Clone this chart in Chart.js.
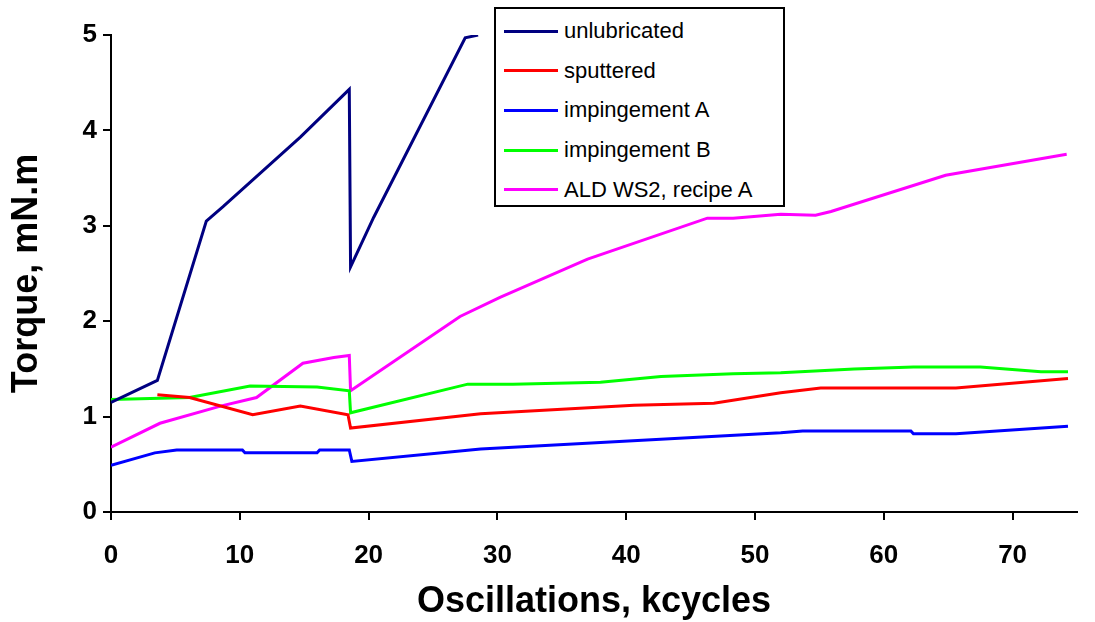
<!DOCTYPE html>
<html>
<head>
<meta charset="utf-8">
<script src="https://cdn.jsdelivr.net/npm/chart.js@4"></script>
<style>
  html, body { margin: 0; padding: 0; background: #fff; }
  #wrap { position: relative; width: 1095px; height: 622px; }
  #legend {
    position: absolute; left: 494px; top: 7px; width: 287px; height: 196px;
    border: 2px solid #000; background: #fff;
    font-family: "Liberation Sans", Arial, sans-serif; font-size: 22px; color: #000;
  }
  .row { position: absolute; left: 8px; height: 30px; display: flex; align-items: center; }
  .swatch { width: 54px; height: 3px; margin-right: 6px; }
</style>
</head>
<body>
<div id="wrap">
  <canvas id="c" width="1095" height="622"></canvas>
  <div id="legend"></div>
</div>
<script>
// kcycles / torque (mN.m)
const unlubX = [0, 3.6, 7.4, 8.7, 14.7, 18.5, 18.6, 20.4, 27.5, 28.5];
const unlubY = [1.15, 1.38, 3.05, 3.2, 3.93, 4.43, 2.57, 3.09, 4.97, 5.0];

const sputX = [3.6, 6.1, 11, 14.7, 18.4, 18.6, 28.7, 40.6, 46.8, 52, 55.1, 65.6, 74.3];
const sputY = [1.23, 1.2, 1.02, 1.11, 1.02, 0.88, 1.03, 1.12, 1.14, 1.25, 1.3, 1.3, 1.4];

const impAX = [0, 3.4, 5.1, 10.2, 10.4, 16, 16.2, 18.5, 18.7, 28.7, 52, 53.7, 62.1, 62.3, 65.6, 74.3];
const impAY = [0.49, 0.62, 0.65, 0.65, 0.62, 0.62, 0.65, 0.65, 0.53, 0.66, 0.83, 0.85, 0.85, 0.82, 0.82, 0.9];

const impBX = [0, 6.1, 10.8, 16, 18.5, 18.6, 27.7, 31.2, 38, 42.7, 48.3, 52, 57.7, 62.3, 67.5, 72.2, 74.3];
const impBY = [1.18, 1.2, 1.32, 1.31, 1.27, 1.04, 1.34, 1.34, 1.36, 1.42, 1.45, 1.46, 1.5, 1.52, 1.52, 1.47, 1.47];

const aldX = [0, 3.8, 8.5, 11.3, 14.9, 17.3, 18.5, 18.6, 27.1, 30.2, 37, 46.3, 48.3, 52, 54.7, 55.9, 64.8, 74.2];
const aldY = [0.68, 0.93, 1.11, 1.2, 1.56, 1.62, 1.64, 1.27, 2.05, 2.25, 2.65, 3.08, 3.08, 3.12, 3.11, 3.15, 3.53, 3.75];

const seriesNames = ["unlubricated", "sputtered", "impingement A", "impingement B", "ALD WS2, recipe A"];
const seriesColors = ["#000080", "#ff0000", "#0000ff", "#00ff00", "#ff00ff"];

const FONT = "'Liberation Sans', Arial, sans-serif";

function pts(xs, ys) {
  return xs.map((x, i) => ({ x, y: ys[i] }));
}

const series = [
  pts(unlubX, unlubY),
  pts(sputX, sputY),
  pts(impAX, impAY),
  pts(impBX, impBY),
  pts(aldX, aldY),
];

const chart = new Chart(document.getElementById("c"), {
  type: "line",
  data: {
    datasets: series.map((data, i) => ({
      label: seriesNames[i],
      data,
      borderColor: seriesColors[i],
      backgroundColor: seriesColors[i],
      borderWidth: 3,
      pointRadius: 0,
      tension: 0,
    })),
  },
  options: {
    responsive: false,
    animation: false,
    devicePixelRatio: 1,
    layout: { padding: { left: 0, top: 35, right: 18, bottom: 0 } },
    plugins: { legend: { display: false }, tooltip: { enabled: false } },
    scales: {
      x: {
        type: "linear",
        min: 0,
        max: 75,
        afterFit: (s) => { s.height = 110; },
        border: { display: true, color: "#000", width: 2 },
        grid: { drawOnChartArea: false, drawTicks: true, tickLength: 8, color: "#000", lineWidth: 2 },
        ticks: {
          stepSize: 10,
          includeBounds: false,
          color: "#000",
          padding: 20,
          maxRotation: 0,
          font: { family: FONT, size: 26, weight: "bold" },
        },
        title: {
          display: true,
          text: "Oscillations, kcycles",
          color: "#000",
          padding: { top: 0, bottom: 2 },
          font: { family: FONT, size: 36, weight: "bold", lineHeight: 1 },
        },
      },
      y: {
        min: 0,
        max: 5,
        afterFit: (s) => { s.width = 111; },
        border: { display: true, color: "#000", width: 2 },
        grid: { drawOnChartArea: false, drawTicks: true, tickLength: 8, color: "#000", lineWidth: 2 },
        ticks: {
          stepSize: 1,
          color: "#000",
          padding: 6,
          font: { family: FONT, size: 26, weight: "bold" },
        },
        title: {
          display: true,
          text: "Torque, mN.m",
          color: "#000",
          padding: { top: 5, bottom: 0 },
          font: { family: FONT, size: 36, weight: "bold", lineHeight: 1.2 },
        },
      },
    },
  },
});

// legend box inside the plot, like the original
const legend = document.getElementById("legend");
chart.data.datasets.forEach((ds, i) => {
  const row = document.createElement("div");
  row.className = "row";
  row.style.top = (7 + i * 39.7) + "px";
  const sw = document.createElement("span");
  sw.className = "swatch";
  sw.style.background = ds.borderColor;
  const txt = document.createElement("span");
  txt.textContent = ds.label;
  row.appendChild(sw);
  row.appendChild(txt);
  legend.appendChild(row);
});
</script>
</body>
</html>
